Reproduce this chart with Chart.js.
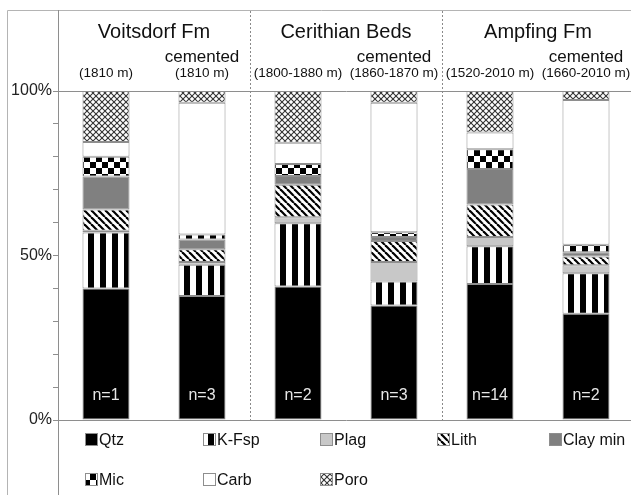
<!DOCTYPE html>
<html>
<head>
<meta charset="utf-8">
<script src="https://cdn.jsdelivr.net/npm/chart.js@4.4.0/dist/chart.umd.min.js"></script>
<style>
  html, body { margin: 0; padding: 0; background: #fff; overflow: hidden; }
  #wrap { position: absolute; left: 0; top: 0; width: 634px; height: 495px; }
</style>
</head>
<body>
<div id="wrap"><canvas id="chart"></canvas></div>
<script>
// bars, left to right
const groupNames = ['Voitsdorf Fm', 'Cerithian Beds', 'Ampfing Fm'];
const barLabels = ['Voitsdorf', 'Voitsdorf cem.', 'Cerithian', 'Cerithian cem.', 'Ampfing', 'Ampfing cem.'];
const depths = ['(1810 m)', '(1810 m)', '(1800-1880 m)', '(1860-1870 m)', '(1520-2010 m)', '(1660-2010 m)'];
const cemented = [false, true, false, true, false, true];
const sampleCounts = [1, 3, 2, 3, 14, 2];

// composition in %, bottom to top
const qtz  = [40,   37.7, 40.6, 34.8, 41.3, 32.3];
const kfsp = [17,   9.5,  19.2, 7.3,  11.5, 12.3];
const plag = [0.5,  0.8,  1.8,  5.9,  2.8,  2.4];
const lith = [6.5,  3.9,  9.9,  6.4,  9.9,  2.7];
const clay = [10,   3,    2.7,  1.2,  10.8, 1.3];
const mic  = [6,    1.5,  3.6,  1.5,  6,    2.3];
const carb = [4.5,  40,   6.5,  39.3, 5.1,  44];
const poro = [15.5, 3.6,  15.7, 3.6,  12.6, 2.7];

const yTicks = [0, 50, 100];
const FONT = '"Liberation Sans", Arial, sans-serif';

function tile(w, h, draw){
  const c = document.createElement('canvas'); c.width = w; c.height = h;
  const g = c.getContext('2d'); g.fillStyle = '#fff'; g.fillRect(0,0,w,h);
  draw(g, w, h);
  return document.createElement('canvas').getContext('2d').createPattern(c, 'repeat');
}
// vertical stripes
const pKfsp = tile(12, 12, (g)=>{ g.fillStyle = '#000'; g.fillRect(4, 0, 6, 12); });
// diagonal "\" stripes
const pLith = tile(7, 7, (g, w)=>{
  g.strokeStyle = '#000'; g.lineWidth = 2.2;
  for(let o=-w; o<=w; o+=w){ g.beginPath(); g.moveTo(o, 0); g.lineTo(o+w, w); g.stroke(); }
});
// checkerboard
const pMic = tile(12, 12, (g)=>{ g.fillStyle = '#000'; g.fillRect(0,0,6,6); g.fillRect(6,6,6,6); });
// crosshatch
const pPoro = tile(6, 6, (g, w)=>{
  g.strokeStyle = '#333'; g.lineWidth = 1.1;
  for(let o=-w; o<=w; o+=w){
    g.beginPath(); g.moveTo(o, 0); g.lineTo(o+w, w); g.stroke();
    g.beginPath(); g.moveTo(o+w, 0); g.lineTo(o, w); g.stroke();
  }
});

const edge = '#8e8e8e';
function ds(label, data, fill){
  return { label, data, backgroundColor: fill, borderColor: edge, borderWidth: 1, borderSkipped: false,
           categoryPercentage: 1, barPercentage: 0.49 };
}

const decor = {
  id: 'decor',
  afterDraw(chart){
    const ctx = chart.ctx, x = chart.scales.x, a = chart.chartArea;
    const px = i => x.getPixelForValue(i);
    ctx.save();
    // frame
    ctx.strokeStyle = '#b4b4b4'; ctx.lineWidth = 1;
    ctx.beginPath(); ctx.moveTo(7.5, 495); ctx.lineTo(7.5, 10.5); ctx.lineTo(640, 10.5); ctx.stroke();
    ctx.strokeStyle = edge;
    ctx.beginPath(); ctx.moveTo(Math.round(a.left)+0.5, 10); ctx.lineTo(Math.round(a.left)+0.5, 495); ctx.stroke();
    // group separators
    ctx.setLineDash([2, 2]); ctx.strokeStyle = '#8a8a8a';
    [1, 3].forEach(i=>{
      const sx = Math.round((px(i)+px(i+1))/2)+0.5;
      ctx.beginPath(); ctx.moveTo(sx, 11); ctx.lineTo(sx, a.bottom); ctx.stroke();
    });
    ctx.setLineDash([]);
    // headers
    ctx.fillStyle = '#111'; ctx.textAlign = 'center'; ctx.textBaseline = 'alphabetic';
    groupNames.forEach((n, k)=>{
      ctx.font = '20px ' + FONT;
      ctx.fillText(n, (px(2*k)+px(2*k+1))/2, 38);
    });
    depths.forEach((d, i)=>{
      if(cemented[i]){ ctx.font = '17px ' + FONT; ctx.fillText('cemented', px(i), 62); }
      ctx.font = '13.5px ' + FONT; ctx.fillText(d, px(i), 77);
    });
    // sample counts
    ctx.fillStyle = '#e6e6e6'; ctx.font = '16px ' + FONT; ctx.textBaseline = 'middle';
    sampleCounts.forEach((n, i)=> ctx.fillText('n=' + n, px(i), a.bottom - 24));
    // legend
    const cols = [85, 203, 320, 437, 549];
    ctx.textAlign = 'left'; ctx.fillStyle = '#111'; ctx.font = '16px ' + FONT;
    chart.data.datasets.forEach((d, i)=>{
      const bx = cols[i % 5], cy = i < 5 ? 440 : 480;
      ctx.fillStyle = d.backgroundColor; ctx.fillRect(bx, cy-7, 13, 13);
      ctx.strokeStyle = edge; ctx.strokeRect(bx+0.5, cy-6.5, 12, 12);
      ctx.fillStyle = '#111'; ctx.fillText(d.label, bx + 14, cy + 1);
    });
    ctx.restore();
  }
};

new Chart(document.getElementById('chart'), {
  type: 'bar',
  data: {
    labels: barLabels,
    datasets: [
      ds('Qtz', qtz, '#000'),
      ds('K-Fsp', kfsp, pKfsp),
      ds('Plag', plag, '#c8c8c8'),
      ds('Lith', lith, pLith),
      ds('Clay min', clay, '#808080'),
      ds('Mic', mic, pMic),
      ds('Carb', carb, '#fff'),
      ds('Poro', poro, pPoro)
    ]
  },
  options: {
    responsive: true, maintainAspectRatio: false, animation: false,
    layout: { padding: { top: 91, bottom: 75, left: 0, right: 0 } },
    plugins: { legend: { display: false }, tooltip: { enabled: false } },
    scales: {
      x: { stacked: true, display: false },
      y: {
        stacked: true, min: 0, max: 100,
        afterFit: s => { s.width = 58; },
        ticks: { stepSize: 10, autoSkip: false, padding: 1, color: '#222',
                 font: { family: FONT, size: 16 },
                 callback: v => yTicks.includes(v) ? v + '%' : '' },
        grid: { tickLength: 5, tickColor: edge,
                color: c => (c.tick && (c.tick.value === 0 || c.tick.value === 100)) ? edge : 'rgba(0,0,0,0)' },
        border: { color: edge }
      }
    }
  },
  plugins: [decor]
});
</script>
</body>
</html>
